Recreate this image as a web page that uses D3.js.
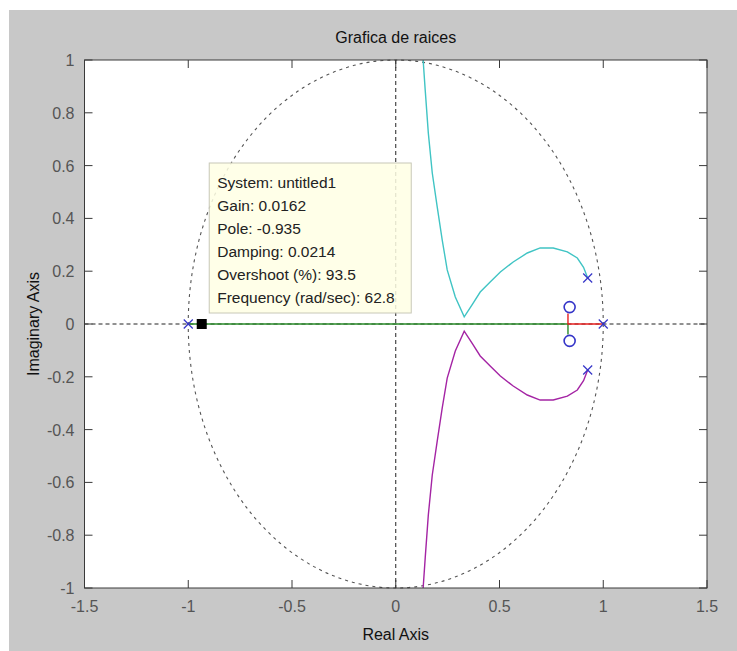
<!DOCTYPE html>
<html>
<head>
<meta charset="utf-8">
<script src="https://cdn.jsdelivr.net/npm/d3@7"></script>
<style>
  body { margin: 0; background: #fff; }
  svg text { font-family: "Liberation Sans", Arial, sans-serif; }
</style>
</head>
<body>
<div id="chart"></div>
<script>
// Root locus data (real, imaginary)
const cyanBranch = [
  [0.925, 0.174], [0.905, 0.215], [0.875, 0.25], [0.827, 0.273], [0.759, 0.288],
  [0.696, 0.288], [0.634, 0.269], [0.566, 0.235], [0.504, 0.197], [0.455, 0.159],
  [0.407, 0.121], [0.37, 0.075], [0.33, 0.027], [0.287, 0.102], [0.248, 0.205],
  [0.224, 0.318], [0.2, 0.443], [0.176, 0.572], [0.157, 0.723], [0.142, 0.886], [0.132, 1.0]
];
const magentaBranch = [
  [0.925, -0.174], [0.905, -0.215], [0.875, -0.25], [0.827, -0.273], [0.759, -0.288],
  [0.696, -0.288], [0.634, -0.269], [0.566, -0.235], [0.504, -0.197], [0.455, -0.159],
  [0.407, -0.121], [0.37, -0.075], [0.33, -0.027], [0.287, -0.102], [0.248, -0.205],
  [0.224, -0.318], [0.2, -0.443], [0.176, -0.572], [0.157, -0.723], [0.142, -0.886], [0.132, -1.0]
];
const greenBranch = [[-1, 0], [0.83, 0], [0.83, -0.04]];
const redBranch = [[1, 0], [0.83, 0], [0.83, 0.04]];
const poles = [[-1, 0], [1, 0], [0.925, 0.174], [0.925, -0.174]];
const zeros = [[0.838, 0.064], [0.838, -0.064]];
const selected = [-0.935, 0];

const xTicks = [-1.5, -1, -0.5, 0, 0.5, 1, 1.5];
const yTicks = [-1, -0.8, -0.6, -0.4, -0.2, 0, 0.2, 0.4, 0.6, 0.8, 1];

const tipLines = [
  "System: untitled1",
  "Gain: 0.0162",
  "Pole: -0.935",
  "Damping: 0.0214",
  "Overshoot (%): 93.5",
  "Frequency (rad/sec): 62.8"
];

const width = 737, height = 651;
const margin = { top: 60, right: 30, bottom: 63, left: 84.5 };

const svg = d3.select("#chart").append("svg")
  .attr("width", width).attr("height", height);

// figure background
svg.append("rect").attr("x", 9).attr("y", 10)
  .attr("width", width - 9).attr("height", height - 10).attr("fill", "#c8c8c8");

const x = d3.scaleLinear().domain([-1.5, 1.5]).range([margin.left, width - margin.right]);
const y = d3.scaleLinear().domain([-1, 1]).range([height - margin.bottom, margin.top]);

svg.append("rect")
  .attr("x", x(-1.5)).attr("y", y(1))
  .attr("width", x(1.5) - x(-1.5)).attr("height", y(-1) - y(1))
  .attr("fill", "#fff");

const plot = svg.append("g");

// unit circle (dotted)
plot.append("ellipse")
  .attr("cx", x(0)).attr("cy", y(0))
  .attr("rx", x(1) - x(0)).attr("ry", y(0) - y(1))
  .attr("fill", "none").attr("stroke", "#555").attr("stroke-width", 1.1)
  .attr("stroke-dasharray", "3,4");

// dashed axes through origin
plot.append("line").attr("x1", x(0)).attr("x2", x(0)).attr("y1", y(1)).attr("y2", y(-1))
  .attr("stroke", "#222").attr("stroke-dasharray", "4,3");
plot.append("line").attr("x1", x(-1.5)).attr("x2", x(1.5)).attr("y1", y(0)).attr("y2", y(0))
  .attr("stroke", "#222").attr("stroke-dasharray", "4,3");

const line = d3.line().x(d => x(d[0])).y(d => y(d[1]));

[[greenBranch, "#2a8a2a"], [redBranch, "#e82020"],
 [cyanBranch, "#40c4c4"], [magentaBranch, "#a424a4"]].forEach(([data, c]) => {
  plot.append("path").datum(data).attr("d", line)
    .attr("fill", "none").attr("stroke", c).attr("stroke-width", 1.4);
});

// poles (x markers)
const s = 4.5;
poles.forEach(p => {
  const g = plot.append("g").attr("transform", `translate(${x(p[0])},${y(p[1])})`)
    .attr("stroke", "#3535c8").attr("stroke-width", 1.3);
  g.append("line").attr("x1", -s).attr("y1", -s).attr("x2", s).attr("y2", s);
  g.append("line").attr("x1", -s).attr("y1", s).attr("x2", s).attr("y2", -s);
});

// zeros (circles)
plot.selectAll(".zero").data(zeros).join("circle")
  .attr("cx", d => x(d[0])).attr("cy", d => y(d[1])).attr("r", 5.5)
  .attr("fill", "none").attr("stroke", "#3535c8").attr("stroke-width", 1.6);

// data tip marker
plot.append("rect")
  .attr("x", x(selected[0]) - 5).attr("y", y(selected[1]) - 5)
  .attr("width", 10).attr("height", 10).attr("fill", "#000");

// data tip box
const tipX = x(selected[0]) + 7.5, tipBottom = y(selected[1]) - 11;
const tipW = 202, tipH = 150;
const tip = svg.append("g").attr("transform", `translate(${tipX},${tipBottom - tipH})`);
tip.append("rect").attr("width", tipW).attr("height", tipH)
  .attr("fill", "#ffffe4").attr("fill-opacity", 0.85)
  .attr("stroke", "#c8c8b8").attr("stroke-width", 1);
tip.selectAll("text").data(tipLines).join("text")
  .attr("x", 8).attr("y", (d, i) => 25 + i * 23)
  .attr("font-size", 15.5).attr("fill", "#222").text(d => d);

// axes box and inward ticks
const axisColor = "#3a3a3a";
const tl = 8;
svg.append("rect")
  .attr("x", x(-1.5)).attr("y", y(1))
  .attr("width", x(1.5) - x(-1.5)).attr("height", y(-1) - y(1))
  .attr("fill", "none").attr("stroke", axisColor);

const ticks = svg.append("g").attr("stroke", axisColor);
xTicks.forEach(t => {
  ticks.append("line").attr("x1", x(t)).attr("x2", x(t)).attr("y1", y(-1)).attr("y2", y(-1) - tl);
  ticks.append("line").attr("x1", x(t)).attr("x2", x(t)).attr("y1", y(1)).attr("y2", y(1) + tl);
});
yTicks.forEach(t => {
  ticks.append("line").attr("x1", x(-1.5)).attr("x2", x(-1.5) + tl).attr("y1", y(t)).attr("y2", y(t));
  ticks.append("line").attr("x1", x(1.5)).attr("x2", x(1.5) - tl).attr("y1", y(t)).attr("y2", y(t));
});

const fmt = d => String(d);
svg.append("g").selectAll("text").data(xTicks).join("text")
  .attr("x", d => x(d)).attr("y", y(-1) + 24)
  .attr("text-anchor", "middle").attr("font-size", 16).attr("fill", "#555")
  .text(fmt);
svg.append("g").selectAll("text").data(yTicks).join("text")
  .attr("x", x(-1.5) - 10).attr("y", d => y(d) + 6)
  .attr("text-anchor", "end").attr("font-size", 16).attr("fill", "#555")
  .text(fmt);

svg.append("text").attr("x", x(0)).attr("y", 43)
  .attr("text-anchor", "middle").attr("font-size", 16).attr("fill", "#111")
  .text("Grafica de raices");
svg.append("text").attr("x", x(0)).attr("y", 640)
  .attr("text-anchor", "middle").attr("font-size", 16).attr("fill", "#111")
  .text("Real Axis");
svg.append("text")
  .attr("transform", `translate(39,${y(0)}) rotate(-90)`)
  .attr("text-anchor", "middle").attr("font-size", 16).attr("fill", "#111")
  .text("Imaginary Axis");
</script>
</body>
</html>
